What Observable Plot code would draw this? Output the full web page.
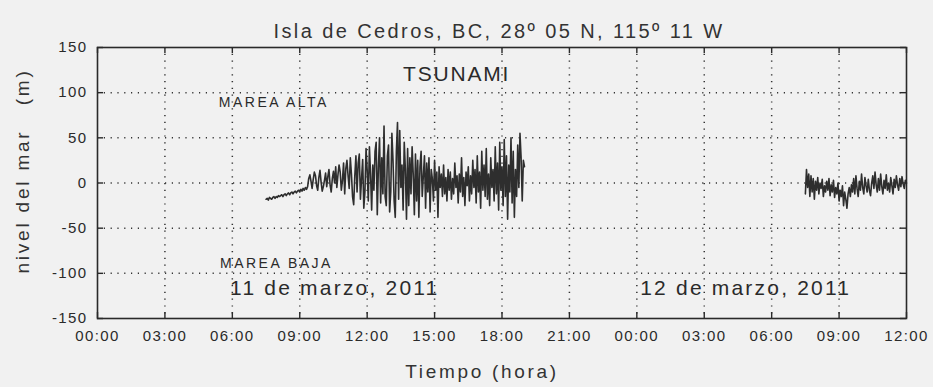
<!DOCTYPE html>
<html><head><meta charset="utf-8">
<script src="https://cdn.jsdelivr.net/npm/d3@7"></script>
<script src="https://cdn.jsdelivr.net/npm/@observablehq/plot@0.6"></script>
<style>
html,body{margin:0;padding:0;background:#f1f1f1;}
#chart svg{display:block;}
</style></head>
<body><div id="chart"></div>
<script>
const title = "Isla de Cedros, BC, 28º 05 N, 115º 11 W";
const yLabel = "nivel del mar\u00a0\u00a0\u00a0(m)";
const xLabel = "Tiempo (hora)";
const xTicks = [0,3,6,9,12,15,18,21,24,27,30,33,36];
const yTicks = [-150,-100,-50,0,50,100,150];
const sampleStep = 0.05; // hours between readings (3 min)

// Segment 1: 11 de marzo, 07:30 - 19:00
const seg1Start = 7.5;
const seg1 = [
 -18,-17,-19,-16,-17,-18,-16,-15,-17,-15,-16,-14,-15,-14,-13,-15,-13,-12,-14,-12,
 -11,-13,-11,-10,-12,-10,-9,-11,-9,-8,-10,-7,-9,-6,-8,-5,-7,-4,5,9,
 2,-6,4,12,8,-3,-8,6,14,1,-9,-4,3,11,-4,7,15,-2,-10,5,
 13,0,18,-5,9,20,12,-8,3,22,-12,16,25,8,-6,28,10,-15,-24,8,
 30,-10,22,32,-18,5,26,-28,-10,38,14,-20,40,10,-30,20,-8,35,45,-35,
 18,50,-22,28,-12,63,-15,-25,30,42,-32,-10,55,25,-20,-38,35,67,-18,58,
 -5,20,-30,45,15,-40,38,-25,28,-12,40,10,-35,32,-20,25,-38,18,35,-15,
 8,30,-28,22,-10,28,-32,15,5,-20,25,-8,12,-38,18,-5,10,-15,20,-12,
 6,-20,15,-8,12,-18,5,-12,22,-5,8,-22,10,-10,28,-15,6,-25,12,-3,
 18,-20,8,-12,25,-5,15,-22,30,-10,12,-28,35,-8,20,-15,38,-18,10,-25,
 28,-5,15,-20,40,-12,22,-30,45,-8,18,-25,48,-15,30,-40,20,-10,50,-22,
 35,-38,15,-15,42,-5,55,28,-20,25,18
];
// Segment 2: 12 de marzo, 07:30 - 12:00
const seg2Start = 31.5;
const seg2 = [
 -12,15,-5,10,-15,8,-10,5,-18,2,-8,6,-12,0,-6,4,-15,-3,-10,2,
 -8,5,-14,-2,-10,3,-16,-5,-12,0,-20,-8,-15,-3,-25,-10,-18,-28,-12,-5,
 -15,-2,-10,5,-12,8,-6,-15,2,-8,10,-5,-12,6,-3,-10,4,-8,-14,0,
 8,-6,12,-2,-10,5,-8,10,-4,-12,3,-6,9,-8,0,-10,6,-3,-12,4,
 -5,8,-2,-8,5,-4,7,-1,-6,3,0
];
const bigNotes = [{text:"TSUNAMI", t:15.98, v:120}];
const smallNotes = [
  {text:"MAREA ALTA", t:5.4, v:89},
  {text:"MAREA BAJA", t:5.45, v:-89}
];
const dateNotes = [
  {text:"11 de marzo, 2011", t:5.9, v:-117},
  {text:"12 de marzo, 2011", t:24.15, v:-117}
];

const rows = [
  ...seg1.map((v,i)=>({t: seg1Start + i*sampleStep, v, seg:1})),
  ...seg2.map((v,i)=>({t: seg2Start + i*sampleStep, v, seg:2}))
];
const fmt = h => String(h % 24).padStart(2,"0") + ":00";
const W = 933, H = 387, mL = 97, mR = 27, mT = 47, mB = 69;
const fw = W - mL - mR, fh = H - mT - mB;
const ink = "#2a2a2a";
const grid = {stroke: "#333", strokeOpacity: 1, strokeWidth: 1.5, strokeDasharray: "1.2,5.6"};

const chart = Plot.plot({
  width: W, height: H,
  marginLeft: mL, marginRight: mR, marginTop: mT, marginBottom: mB,
  style: {background: "#f1f1f1", fontFamily: "'Liberation Sans', Arial, sans-serif", color: ink},
  x: {domain: [0,36], ticks: xTicks, tickFormat: fmt},
  y: {domain: [-150,150], ticks: yTicks, tickFormat: d => String(d)},
  marks: [
    Plot.gridX(xTicks.slice(1,-1), grid),
    Plot.gridY(yTicks.slice(1,-1), grid),
    Plot.tickX(xTicks, {x: d=>d, stroke: ink, strokeWidth: 1.4, insetTop: fh - 6}),
    Plot.tickX(xTicks, {x: d=>d, stroke: ink, strokeWidth: 1.4, insetBottom: fh - 6}),
    Plot.tickY(yTicks, {y: d=>d, stroke: ink, strokeWidth: 1.4, insetRight: fw - 6}),
    Plot.tickY(yTicks, {y: d=>d, stroke: ink, strokeWidth: 1.4, insetLeft: fw - 6}),
    Plot.axisX({anchor: "bottom", ticks: xTicks, tickFormat: fmt, tickSize: 0, tickPadding: 12, fontSize: 15, label: null}),
    Plot.axisY({anchor: "left", ticks: yTicks, tickFormat: d => String(d), tickSize: 0, tickPadding: 10, fontSize: 15, label: null}),
    Plot.lineY(rows, {x: "t", y: "v", z: "seg", stroke: "#2e2e2e", strokeWidth: 1.6, curve: "linear"}),
    Plot.frame({stroke: ink, strokeWidth: 1.6}),
    Plot.text(bigNotes, {x: "t", y: "v", text: "text", fontSize: 21, fill: ink}),
    Plot.text(smallNotes, {x: "t", y: "v", text: "text", fontSize: 14, textAnchor: "start", fill: ink}),
    Plot.text(dateNotes, {x: "t", y: "v", text: "text", fontSize: 21, textAnchor: "start", fill: ink}),
    Plot.text([title], {frameAnchor: "top", dy: -24, dx: -3, fontSize: 20, fill: "#333"}),
    Plot.text([xLabel], {frameAnchor: "bottom", dy: 59, dx: -20, fontSize: 19, fill: "#333"}),
    Plot.text([yLabel], {frameAnchor: "left", textAnchor: "middle", dx: -75, dy: -12, rotate: -90, fontSize: 19, fill: "#333"})
  ]
});

// the scanned original uses wide lettering: widen tracking to match
const tracking = new Map([
  [title, 2.4], [xLabel, 2.7], [yLabel, 2.8], ["TSUNAMI", 1.8],
  ["MAREA ALTA", 2.5], ["MAREA BAJA", 2.5],
  ["11 de marzo, 2011", 2.2], ["12 de marzo, 2011", 2.2]
]);
d3.select(chart).selectAll("text").each(function() {
  const s = tracking.get(this.textContent);
  if (s != null) this.setAttribute("letter-spacing", s);
});
d3.select(chart).selectAll('g[aria-label="x-axis tick label"], g[aria-label="y-axis tick label"]')
  .attr("letter-spacing", 1.4);
document.getElementById("chart").append(chart);
</script></body></html>
